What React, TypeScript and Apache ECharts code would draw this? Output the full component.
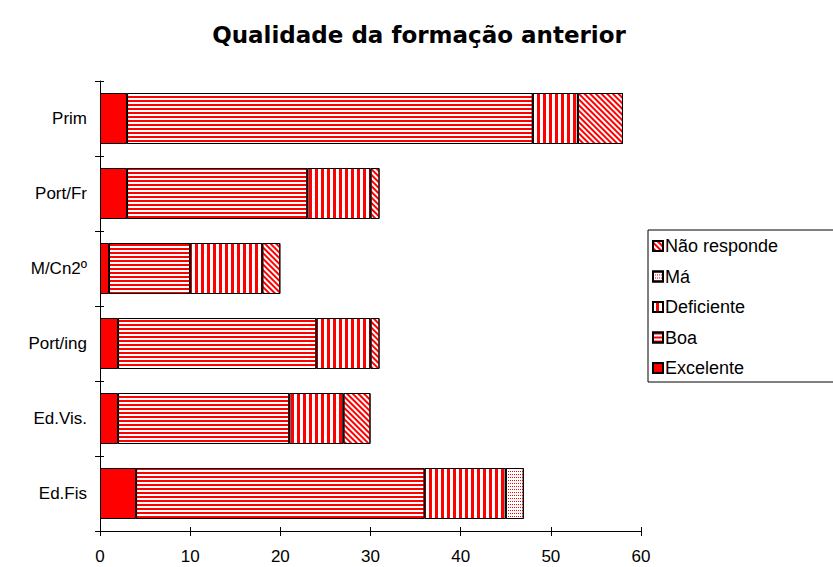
import React, { useEffect, useRef } from "react";
import * as echarts from "echarts";

const categories = ["Prim", "Port/Fr", "M/Cn2º", "Port/ing", "Ed.Vis.", "Ed.Fis"];
const excelente = [3, 3, 1, 2, 2, 4];
const boa = [45, 20, 9, 22, 19, 32];
const deficiente = [5, 7, 8, 6, 6, 9];
const ma = [0, 0, 0, 0, 0, 2];
const naoResponde = [5, 1, 2, 1, 3, 0];
const xTicks = { min: 0, max: 60, interval: 10 };
const legendOrder = ["Não responde", "Má", "Deficiente", "Boa", "Excelente"];

const RED = "#ff0000";
const FONT = "'Liberation Sans', Arial, sans-serif";

export default function App() {
  const ref = useRef<HTMLDivElement>(null);
  useEffect(() => {
    if (!ref.current) return;
    const chart = echarts.init(ref.current, null, { renderer: "svg" });
    const border = { borderColor: "#000", borderWidth: 1 };
    const mk = (name: string, data: number[], itemStyle: any) => ({
      name,
      type: "bar",
      stack: "total",
      data: data.map((v) => (v === 0 ? null : v)),
      barWidth: 51,
      xAxisIndex: 0,
      yAxisIndex: 0,
      itemStyle: { ...border, ...itemStyle },
      emphasis: { disabled: true },
    });
    chart.setOption({
      animation: false,
      textStyle: { fontFamily: FONT },
      title: {
        text: "Qualidade da formação anterior",
        left: 414,
        top: 18,
        textAlign: "center",
        textStyle: { fontSize: 23, fontWeight: "bold", color: "#000", fontFamily: "'DejaVu Sans', sans-serif" },
      },
      grid: { left: 100, right: 192, top: 81, bottom: 36, containLabel: false },
      legend: {
        data: legendOrder,
        orient: "vertical",
        left: 647,
        top: 232,
        itemWidth: 10,
        itemHeight: 10,
        itemGap: 12.5,
        icon: "rect",
        textStyle: { fontSize: 18, color: "#000", fontFamily: FONT, padding: [0, 0, 0, -3] },
        selectedMode: false,
      },
      graphic: [
        {
          type: "rect",
          shape: { x: 648, y: 230, width: 300, height: 152 },
          style: { fill: "none", stroke: "#000", lineWidth: 1 },
        },
      ],
      xAxis: [
        {
          type: "value",
          ...xTicks,
          axisLine: { show: true, lineStyle: { color: "#000" } },
          axisTick: { show: true, length: 5, lineStyle: { color: "#000" } },
          axisLabel: { fontSize: 17, color: "#000", margin: 17, fontFamily: FONT },
          splitLine: { show: false },
        },
        {
          type: "value",
          ...xTicks,
          position: "bottom",
          axisLine: { show: false },
          axisTick: { show: true, inside: true, length: 4, lineStyle: { color: "#000" } },
          axisLabel: { show: false },
          splitLine: { show: false },
        },
      ],
      yAxis: [
        {
          type: "category",
          data: categories,
          inverse: true,
          axisLine: { show: true, lineStyle: { color: "#000" } },
          axisTick: { show: true, length: 5, lineStyle: { color: "#000" } },
          axisLabel: { fontSize: 17, color: "#000", margin: 13, fontFamily: FONT },
        },
        {
          type: "category",
          data: categories,
          inverse: true,
          position: "left",
          axisLine: { show: false },
          axisTick: { show: true, inside: true, length: 4, lineStyle: { color: "#000" } },
          axisLabel: { show: false },
        },
      ],
      series: [
        mk("Excelente", excelente, { color: RED }),
        mk("Boa", boa, {
          color: "#fff",
          decal: { symbol: "rect", symbolSize: 1, color: RED, dashArrayX: [1, 0], dashArrayY: [2, 2], rotation: 0 },
        }),
        mk("Deficiente", deficiente, {
          color: "#fff",
          decal: { symbol: "rect", symbolSize: 1, color: RED, dashArrayX: [1, 0], dashArrayY: [3, 3], rotation: Math.PI / 2 },
        }),
        mk("Má", ma, {
          color: "#fff",
          decal: { symbol: "rect", symbolSize: 1, color: RED, dashArrayX: [1, 1], dashArrayY: [1, 2], rotation: 0 },
        }),
        mk("Não responde", naoResponde, {
          color: "#fff",
          decal: { symbol: "rect", symbolSize: 1, color: RED, dashArrayX: [1, 0], dashArrayY: [2, 2], rotation: Math.PI / 4 },
        }),
      ],
    });
    return () => chart.dispose();
  }, []);
  return <div ref={ref} style={{ width: 833, height: 567, position: "absolute", left: 0, top: 0 }} />;
}
